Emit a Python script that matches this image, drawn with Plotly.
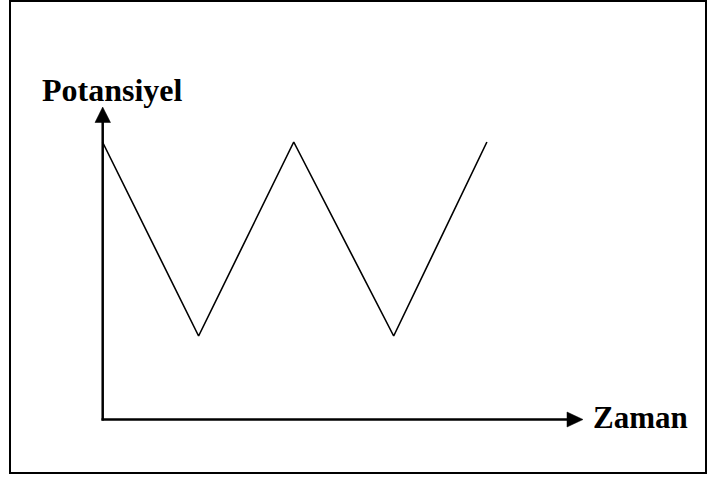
import plotly.graph_objects as go

# Schematic: triangular (cyclic voltammetry) potential vs. time
time_points = [0, 1.0, 1.99, 3.03, 4.0]
potential = [1, 0, 1, 0, 1]
x_label = "Zaman"
y_label = "Potansiyel"

W, H = 709, 477

def px(x):
    return x / W

def py(y):
    return 1 - y / H

# data-axis ranges chosen so the schematic sits inside the frame
x0_px, dx_px = 102.5, 96.1
y1_px, y0_px = 142.0, 336.0
dy_px = y0_px - y1_px
xr = [-x0_px / dx_px, (W - x0_px) / dx_px]
yr = [(y0_px - H) / dy_px, y0_px / dy_px]

fig = go.Figure()
fig.add_trace(go.Scatter(
    x=time_points, y=potential, mode="lines",
    line=dict(color="black", width=1.6),
    hoverinfo="skip", showlegend=False,
))

shapes = [
    # outer frame
    dict(type="rect", xref="paper", yref="paper",
         x0=px(10), x1=px(706), y0=py(473), y1=py(1),
         line=dict(color="black", width=2)),
    # y axis line
    dict(type="line", xref="paper", yref="paper",
         x0=px(102.7), x1=px(102.7), y0=py(420.5), y1=py(118),
         line=dict(color="black", width=2.5)),
    # x axis line
    dict(type="line", xref="paper", yref="paper",
         x0=px(101.5), x1=px(572), y0=py(419.5), y1=py(419.5),
         line=dict(color="black", width=2.5)),
    # y arrow head
    dict(type="path", xref="paper", yref="paper",
         path=f"M {px(102.7)} {py(107)} L {px(95)} {py(122.5)} L {px(110.5)} {py(122.5)} Z",
         fillcolor="black", line=dict(color="black", width=0.5)),
    # x arrow head
    dict(type="path", xref="paper", yref="paper",
         path=f"M {px(583)} {py(419.5)} L {px(567)} {py(412)} L {px(567)} {py(427)} Z",
         fillcolor="black", line=dict(color="black", width=0.5)),
]

annotations = [
    dict(text=f"<b>{y_label}</b>", xref="paper", yref="paper",
         x=px(40), y=py(90), xanchor="left", yanchor="middle",
         showarrow=False,
         font=dict(family="Liberation Serif", size=32, color="black")),
    dict(text=f"<b>{x_label}</b>", xref="paper", yref="paper",
         x=px(591), y=py(417), xanchor="left", yanchor="middle",
         showarrow=False,
         font=dict(family="Liberation Serif", size=31, color="black")),
]

fig.update_layout(
    width=W, height=H,
    margin=dict(l=0, r=0, t=0, b=0),
    paper_bgcolor="white", plot_bgcolor="white",
    xaxis=dict(range=xr, visible=False, fixedrange=True),
    yaxis=dict(range=yr, visible=False, fixedrange=True),
    shapes=shapes, annotations=annotations,
)

fig.write_html(
    "out.html",
    config={"displayModeBar": False},
    post_script="document.body.style.margin='0';document.body.style.overflow='hidden';",
)
